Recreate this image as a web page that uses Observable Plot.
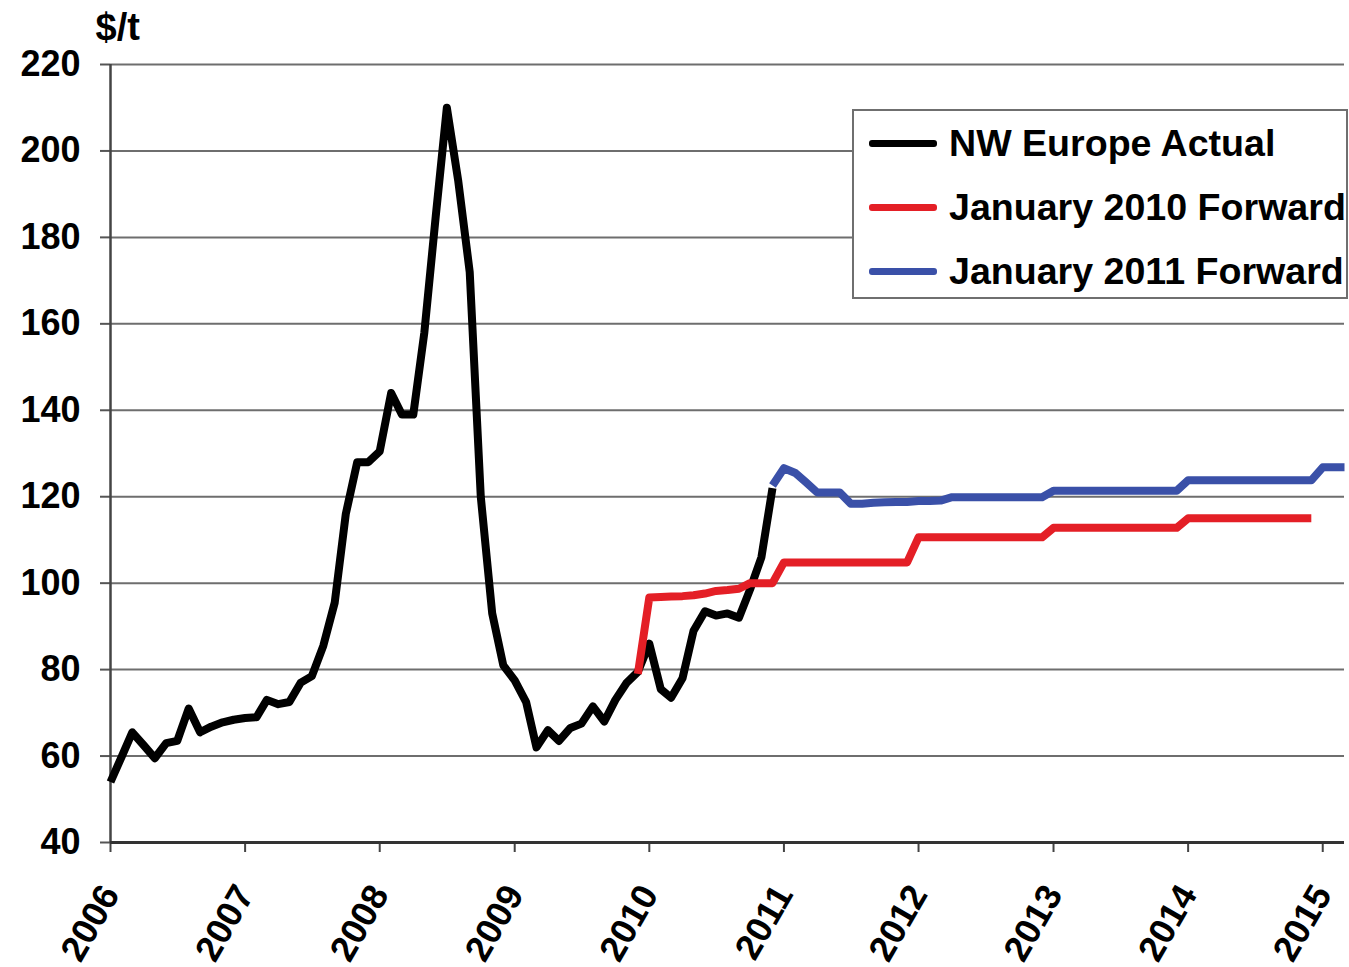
<!DOCTYPE html>
<html>
<head>
<meta charset="utf-8">
<script src="https://cdn.jsdelivr.net/npm/d3@7"></script>
<script src="https://cdn.jsdelivr.net/npm/@observablehq/plot@0.6"></script>
<style>
  html, body { margin: 0; padding: 0; background: #fff; }
  #wrap { position: relative; width: 1349px; height: 967px; font-family: "Liberation Sans", Arial, Helvetica, sans-serif; font-weight: bold; }
  #legend { position: absolute; left: 852px; top: 109px; width: 496px; height: 190px; box-sizing: border-box; border: 2px solid #6f6f6f; background: #fff; }
  .swatch { position: absolute; left: 15px; width: 68px; height: 7px; border-radius: 3px; }
  .lbl { position: absolute; left: 95px; font-size: 37.6px; line-height: 40px; white-space: nowrap; color: #000; }
</style>
</head>
<body>
<div id="wrap"></div>
<script>
// ---- data ----
const seriesNames = ["NW Europe Actual", "January 2010 Forward", "January 2011 Forward"];
const seriesColors = ["#000000", "#e41f26", "#3a50a8"];

// monthly values, NW Europe Actual, starting Jan 2006
const actualStart = "2006-01-01";
const actualValues = [
  54, 60, 65.5, 62.5, 59.5, 63, 63.5, 71, 65.5, 66.8, 67.8, 68.4,
  68.8, 69, 73, 72, 72.5, 77, 78.5, 85.5, 95.5, 116, 128, 128,
  130.5, 144, 139, 139, 158, 185, 210, 193, 172, 120, 93, 81,
  77.5, 72.5, 62, 66, 63.5, 66.5, 67.5, 71.5, 68, 73, 77, 79.5,
  86, 75.5, 73.5, 78, 89, 93.5, 92.5, 93, 92, 98.5, 106, 122
];

// monthly values, January 2010 Forward, starting Dec 2009
const fwd2010Start = "2009-12-01";
const fwd2010Values = [
  79,
  96.7, 96.8, 96.9, 97, 97.2, 97.6, 98.2, 98.4, 98.7, 100, 100, 100,
  104.8, 104.8, 104.8, 104.8, 104.8, 104.8, 104.8, 104.8, 104.8, 104.8, 104.8, 104.8,
  110.6, 110.6, 110.6, 110.6, 110.6, 110.6, 110.6, 110.6, 110.6, 110.6, 110.6, 110.6,
  112.8, 112.8, 112.8, 112.8, 112.8, 112.8, 112.8, 112.8, 112.8, 112.8, 112.8, 112.8,
  115, 115, 115, 115, 115, 115, 115, 115, 115, 115, 115, 115
];

// monthly values, January 2011 Forward, starting Dec 2010
const fwd2011Start = "2010-12-01";
const fwd2011Values = [
  122.6,
  126.6, 125.5, 123.4, 121, 121, 121, 118.4, 118.4, 118.6, 118.7, 118.8, 118.8,
  119, 119, 119.1, 119.9, 119.9, 119.9, 119.9, 119.9, 119.9, 119.9, 119.9, 119.9,
  121.4, 121.4, 121.4, 121.4, 121.4, 121.4, 121.4, 121.4, 121.4, 121.4, 121.4, 121.4,
  123.8, 123.8, 123.8, 123.8, 123.8, 123.8, 123.8, 123.8, 123.8, 123.8, 123.8, 123.8,
  126.8, 126.8, 126.8
];

const yearTicks = ["2006","2007","2008","2009","2010","2011","2012","2013","2014","2015"];
const yTicks = [40, 60, 80, 100, 120, 140, 160, 180, 200, 220];
const xDomain = ["2006-01-01", "2015-03-01"];
const yDomain = [40, 220];
const yUnit = "$/t";

// ---- build tables ----
function monthly(start, values, series) {
  const s = new Date(start + "T00:00:00Z");
  return values.map((v, i) => ({date: d3.utcMonth.offset(s, i), value: v, series}));
}
const rows = [
  ...monthly(actualStart, actualValues, seriesNames[0]),
  ...monthly(fwd2010Start, fwd2010Values, seriesNames[1]),
  ...monthly(fwd2011Start, fwd2011Values, seriesNames[2])
];
const xTickDates = yearTicks.map(y => new Date(Date.UTC(+y, 0, 1)));
const xd = xDomain.map(s => new Date(s + "T00:00:00Z"));

const chart = Plot.plot({
  width: 1349,
  height: 967,
  marginLeft: 110,
  marginRight: 5,
  marginTop: 64,
  marginBottom: 125,
  style: {fontFamily: '"Liberation Sans", Arial, Helvetica, sans-serif', fontWeight: "bold", fontSize: "35px", color: "#000", background: "transparent", overflow: "visible"},
  x: {type: "utc", domain: xd},
  y: {domain: yDomain},
  color: {domain: seriesNames, range: seriesColors},
  marks: [
    Plot.ruleY(yTicks.filter(d => d > 40), {x1: xd[0], x2: xd[1], stroke: "#6e6e6e", strokeWidth: 2}),
    Plot.axisY(yTicks, {tickSize: 10, tickPadding: 20, label: null, stroke: "#555", strokeWidth: 2, fontSize: 36, tickFormat: d => d}),
    Plot.axisX(xTickDates, {tickSize: 10, tickPadding: 36, tickRotate: -60, textAnchor: "end", lineAnchor: "middle", label: null, stroke: "#444", strokeWidth: 2, fontSize: 36, tickFormat: d3.utcFormat("%Y")}),
    Plot.ruleX([xd[0]], {y1: 40, y2: 220, stroke: "#444", strokeWidth: 2.5}),
    Plot.ruleY([40], {x1: xd[0], x2: xd[1], stroke: "#333", strokeWidth: 3}),
    Plot.line(rows, {x: "date", y: "value", z: "series", stroke: "series", strokeWidth: 8, strokeLinejoin: "round", strokeLinecap: "butt"}),
    Plot.text([yUnit], {frameAnchor: "top-left", dx: -15, dy: -25, textAnchor: "start", lineAnchor: "bottom", fontSize: 38, fontWeight: "bold"})
  ]
});

const wrap = document.getElementById("wrap");
wrap.appendChild(chart);

// legend (overlaid inside the plot area)
const legend = document.createElement("div");
legend.id = "legend";
const centers = [32, 96, 160];
seriesNames.forEach((name, i) => {
  const sw = document.createElement("div");
  sw.className = "swatch";
  sw.style.background = seriesColors[i];
  sw.style.top = (centers[i] - 3.5) + "px";
  legend.appendChild(sw);
  const t = document.createElement("div");
  t.className = "lbl";
  t.textContent = name;
  t.style.top = (centers[i] - 20) + "px";
  legend.appendChild(t);
});
wrap.appendChild(legend);
</script>
</body>
</html>
